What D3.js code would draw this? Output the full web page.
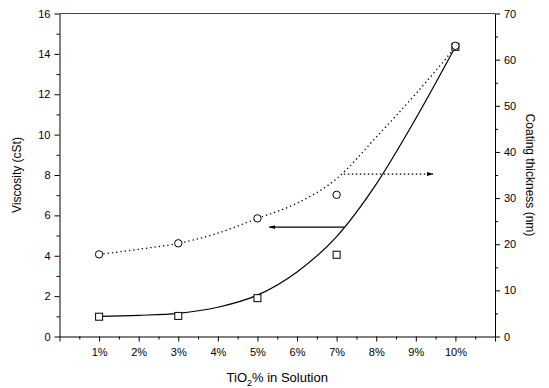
<!DOCTYPE html>
<html>
<head>
<meta charset="utf-8">
<script src="https://cdn.jsdelivr.net/npm/d3@7/dist/d3.min.js"></script>
<style>
  body { margin: 0; background: #fff; }
  svg { display: block; font-family: "Liberation Sans", Arial, sans-serif; }
  .axis path, .axis line { stroke: #000; }
  .axis text { font-size: 11px; fill: #000; }
</style>
</head>
<body>
<script>
// concentrations (TiO2 %) of the measured samples
const concentrations = [1, 3, 5, 7, 10];
// viscosity in cSt (squares, left axis)
const viscosity = [0.98, 1.02, 1.9, 4.05, 14.35];
// coating thickness in nm (circles, right axis)
const thickness = [17.8, 20.2, 25.6, 30.7, 63.0];

// fitted curves
const fitX = [1, 2, 3, 4, 5, 6, 7, 8, 9, 10];
const viscosityFit = [1.0, 1.05, 1.15, 1.45, 2.05, 3.2, 4.95, 7.55, 10.8, 14.35];
const thicknessFit = [17.8, 18.9, 20.2, 22.4, 25.6, 28.9, 34.2, 43.2, 52.6, 62.7];

const xTicks = [1, 2, 3, 4, 5, 6, 7, 8, 9, 10];
const xTickLabels = ["1%", "2%", "3%", "4%", "5%", "6%", "7%", "8%", "9%", "10%"];

const width = 549, height = 388;
const margin = {top: 13.5, right: 54, bottom: 51.5, left: 59.5};

const svg = d3.select("body").append("svg")
  .attr("width", width)
  .attr("height", height);

const x = d3.scaleLinear().domain([0, 11]).range([margin.left, width - margin.right]);
const yL = d3.scaleLinear().domain([0, 16]).range([height - margin.bottom, margin.top]);
const yR = d3.scaleLinear().domain([0, 70]).range([height - margin.bottom, margin.top]);

// top frame line
svg.append("line")
  .attr("x1", x(0)).attr("x2", x(11))
  .attr("y1", yL(16)).attr("y2", yL(16))
  .attr("stroke", "#444").attr("stroke-width", 1);

// bottom axis: minor then major
svg.append("g").attr("class", "axis")
  .attr("transform", "translate(0," + yL(0) + ")")
  .call(d3.axisBottom(x).tickValues(d3.range(0.5, 11, 1)).tickSize(3).tickFormat(""))
  .call(g => g.select(".domain").remove());
svg.append("g").attr("class", "axis")
  .attr("transform", "translate(0," + yL(0) + ")")
  .call(d3.axisBottom(x).tickValues([0].concat(xTicks, [11])).tickSize(5).tickSizeOuter(0)
    .tickFormat((d) => { const i = xTicks.indexOf(d); return i < 0 ? "" : xTickLabels[i]; }))
  .call(g => g.selectAll("text").attr("dy", "1.05em"));

// left axis
svg.append("g").attr("class", "axis")
  .attr("transform", "translate(" + x(0) + ",0)")
  .call(d3.axisLeft(yL).tickValues(d3.range(1, 16, 2)).tickSize(3).tickFormat(""))
  .call(g => g.select(".domain").remove());
svg.append("g").attr("class", "axis")
  .attr("transform", "translate(" + x(0) + ",0)")
  .call(d3.axisLeft(yL).tickValues(d3.range(0, 17, 2)).tickSize(5).tickSizeOuter(0).tickPadding(4));

// right axis
svg.append("g").attr("class", "axis")
  .attr("transform", "translate(" + x(11) + ",0)")
  .call(d3.axisRight(yR).tickValues(d3.range(5, 70, 10)).tickSize(3).tickFormat(""))
  .call(g => g.select(".domain").remove());
svg.append("g").attr("class", "axis")
  .attr("transform", "translate(" + x(11) + ",0)")
  .call(d3.axisRight(yR).tickValues(d3.range(0, 71, 10)).tickSize(5).tickSizeOuter(0).tickPadding(4));

// axis titles
svg.append("text")
  .attr("transform", "translate(21," + ((yL(0) + yL(16)) / 2) + ") rotate(-90)")
  .attr("text-anchor", "middle")
  .style("font-size", "12px")
  .text("Viscosity (cSt)");

svg.append("text")
  .attr("transform", "translate(526," + ((yL(0) + yL(16)) / 2) + ") rotate(90)")
  .attr("text-anchor", "middle")
  .style("font-size", "12px")
  .text("Coating thickness (nm)");

const xt = svg.append("text")
  .attr("x", (x(0) + x(11)) / 2)
  .attr("y", 382)
  .attr("text-anchor", "middle")
  .style("font-size", "13px");
xt.append("tspan").text("TiO");
xt.append("tspan").attr("dy", 4).style("font-size", "9px").text("2");
xt.append("tspan").attr("dy", -4).text("% in Solution");

// fitted curves
const fitV = fitX.map((d, i) => [d, viscosityFit[i]]);
const fitT = fitX.map((d, i) => [d, thicknessFit[i]]);

svg.append("path")
  .datum(fitV)
  .attr("fill", "none")
  .attr("stroke", "#000")
  .attr("stroke-width", 1.2)
  .attr("d", d3.line().x(d => x(d[0])).y(d => yL(d[1])).curve(d3.curveMonotoneX));

svg.append("path")
  .datum(fitT)
  .attr("fill", "none")
  .attr("stroke", "#000")
  .attr("stroke-width", 1.3)
  .attr("stroke-dasharray", "1.3,3")
  .attr("d", d3.line().x(d => x(d[0])).y(d => yR(d[1])).curve(d3.curveMonotoneX));

// markers
svg.selectAll(".sq").data(concentrations).enter().append("rect")
  .attr("class", "sq")
  .attr("x", (d) => x(d) - 3.5)
  .attr("y", (d, i) => yL(viscosity[i]) - 3.5)
  .attr("width", 7).attr("height", 7)
  .attr("fill", "#fff").attr("stroke", "#000").attr("stroke-width", 1);

svg.selectAll(".ci").data(concentrations).enter().append("circle")
  .attr("class", "ci")
  .attr("cx", (d) => x(d))
  .attr("cy", (d, i) => yR(thickness[i]))
  .attr("r", 3.7)
  .attr("fill", "#fff").attr("stroke", "#000").attr("stroke-width", 1);

// arrows pointing to each axis
svg.append("defs").append("marker")
  .attr("id", "head")
  .attr("viewBox", "0 0 10 6")
  .attr("refX", 9).attr("refY", 3)
  .attr("markerWidth", 7).attr("markerHeight", 4)
  .attr("markerUnits", "userSpaceOnUse")
  .attr("orient", "auto")
  .append("path").attr("d", "M0,0L10,3L0,6Z").attr("fill", "#000");

svg.append("line")
  .attr("x1", x(7.2)).attr("x2", x(5.3))
  .attr("y1", yL(5.42)).attr("y2", yL(5.42))
  .attr("stroke", "#000").attr("stroke-width", 1.2)
  .attr("marker-end", "url(#head)");

svg.append("line")
  .attr("x1", x(7.18)).attr("x2", x(9.43))
  .attr("y1", yR(35.2)).attr("y2", yR(35.2))
  .attr("stroke", "#000").attr("stroke-width", 1.2)
  .attr("stroke-dasharray", "1.5,2.5")
  .attr("marker-end", "url(#head)");
</script>
</body>
</html>
